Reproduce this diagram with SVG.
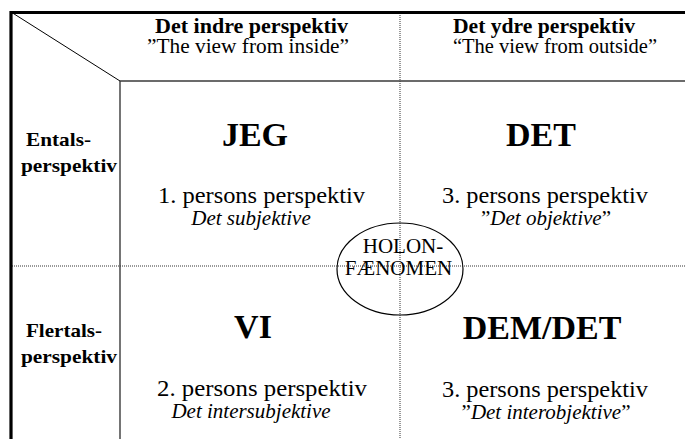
<svg xmlns="http://www.w3.org/2000/svg" width="685" height="439" viewBox="0 0 685 439">
<style>
text{font-family:'Liberation Serif',serif;fill:#000}
.hb{font-weight:bold;font-size:20px}
.hr{font-size:20px}
.lb{font-weight:bold;font-size:19px}
.big{font-weight:bold;font-size:34px;text-anchor:middle}
.pp{font-size:24px}
.it{font-size:21px;text-anchor:middle}
.i{font-style:italic}
.ho{font-size:21px;text-anchor:middle}
.thick{stroke:#000;stroke-width:3.2;fill:none}
.thin{stroke:#000;stroke-width:1;fill:none}
.solid{stroke:#3a3a3a;stroke-width:1.4;fill:none}
.dot{stroke:#333;stroke-width:1;stroke-dasharray:1 1;fill:none}
</style>
<rect width="685" height="439" fill="#fff"/>
<g id="connectors">
<line class="dot" x1="400" y1="13" x2="400" y2="439"/>
<line class="dot" x1="12" y1="266" x2="685" y2="266"/>
<line class="solid" x1="120" y1="81" x2="685" y2="81"/>
<line class="solid" x1="120" y1="81" x2="120" y2="439"/>
<line class="thin" x1="11" y1="12" x2="120" y2="81"/>
<polyline class="thick" points="11,439 11,12.5 685,12.5"/>
</g>
<g font-family="Liberation Serif">
<g id="header-inside">
<text class="hb" x="155" y="33" textLength="193" lengthAdjust="spacingAndGlyphs">Det indre perspektiv</text>
<text class="hr" x="147" y="53" textLength="202" lengthAdjust="spacingAndGlyphs">”The view from inside”</text>
</g>
<g id="header-outside">
<text class="hb" x="453" y="33" textLength="182" lengthAdjust="spacingAndGlyphs">Det ydre perspektiv</text>
<text class="hr" x="453" y="53" textLength="204" lengthAdjust="spacingAndGlyphs">“The view from outside”</text>
</g>
<g id="row-entals">
<text class="lb" x="26" y="146" textLength="65" lengthAdjust="spacingAndGlyphs">Entals-</text>
<text class="lb" x="21" y="172" textLength="96" lengthAdjust="spacingAndGlyphs">perspektiv</text>
</g>
<g id="row-flertals">
<text class="lb" x="26" y="337" textLength="76" lengthAdjust="spacingAndGlyphs">Flertals-</text>
<text class="lb" x="21" y="363" textLength="96" lengthAdjust="spacingAndGlyphs">perspektiv</text>
</g>
<g id="quadrant-jeg">
<text class="big" x="255" y="146">JEG</text>
<text class="pp" x="158" y="203" textLength="207" lengthAdjust="spacingAndGlyphs">1. persons perspektiv</text>
<text class="it" x="251" y="225"><tspan class="i">Det subjektive</tspan></text>
</g>
<g id="quadrant-det">
<text class="big" x="541" y="146">DET</text>
<text class="pp" x="442" y="203" textLength="206" lengthAdjust="spacingAndGlyphs">3. persons perspektiv</text>
<text class="it" x="546" y="225">”<tspan class="i">Det objektive</tspan>”</text>
</g>
<g id="quadrant-vi">
<text class="big" x="253" y="338">VI</text>
<text class="pp" x="157" y="396" textLength="210" lengthAdjust="spacingAndGlyphs">2. persons perspektiv</text>
<text class="it" x="251" y="418"><tspan class="i">Det intersubjektive</tspan></text>
</g>
<g id="quadrant-demdet">
<text class="big" x="542" y="339">DEM/DET</text>
<text class="pp" x="442" y="397" textLength="206" lengthAdjust="spacingAndGlyphs">3. persons perspektiv</text>
<text class="it" x="546" y="419">”<tspan class="i">Det interobjektive</tspan>”</text>
</g>
<g id="holon">
<ellipse cx="400" cy="269" rx="63" ry="46" fill="none" stroke="#000" stroke-width="1.2"/>
<text class="ho" x="403" y="253">HOLON-</text>
<text class="ho" x="398.5" y="275">FÆNOMEN</text>
</g>
</g>
</svg>
